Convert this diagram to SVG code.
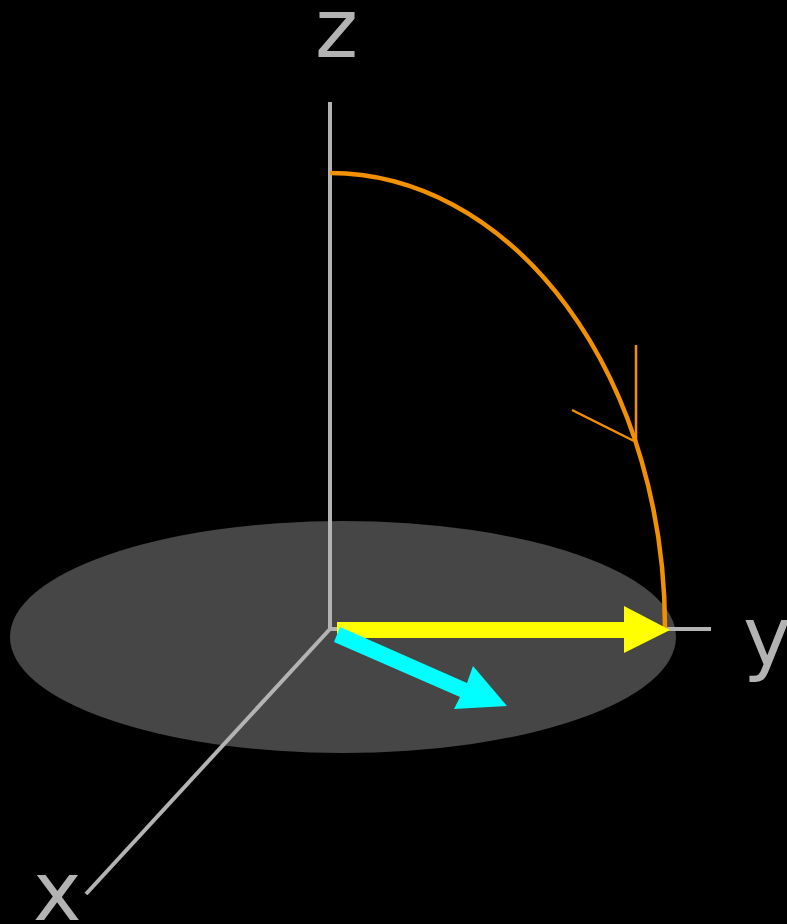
<svg xmlns="http://www.w3.org/2000/svg" width="787" height="924" viewBox="0 0 787 924">
<style>
.axis{stroke:#b3b3b3;stroke-width:4;fill:none}
.lbl{font-family:"DejaVu Sans",sans-serif;font-size:82px;fill:#b3b3b3}
.orange{stroke:#f29100;fill:none}
</style>
<rect width="787" height="924" fill="#000"/>
<g id="plane"><ellipse cx="343" cy="637" rx="333" ry="116" fill="#464646"/></g>
<g id="connectors">
<line class="axis" x1="330" y1="102" x2="330" y2="630"/>
<line class="axis" x1="330" y1="629" x2="711" y2="629"/>
<line class="axis" x1="330" y1="629" x2="86" y2="894"/>
<path class="orange" stroke-width="4.5" d="M330 173 A335 455 0 0 1 665 628"/>
<path class="orange" stroke-width="2.5" d="M572 410 L634 441 M636 345 L636 443"/>
</g>
<g id="yellow-arrow">
<polygon fill="#ffff00" points="337,622 624,622 624,606 670,630 624,653 624,638 337,638"/>
</g>
<g id="cyan-arrow">
<polygon fill="#00ffff" points="340,627 467,683 473,666 507,706 454,709 460,697 334,642"/>
</g>
<g id="labels">
<text class="lbl" x="315" y="57">z</text>
<text class="lbl" x="743" y="665">y</text>
<text class="lbl" x="33" y="920">x</text>
</g>
</svg>
